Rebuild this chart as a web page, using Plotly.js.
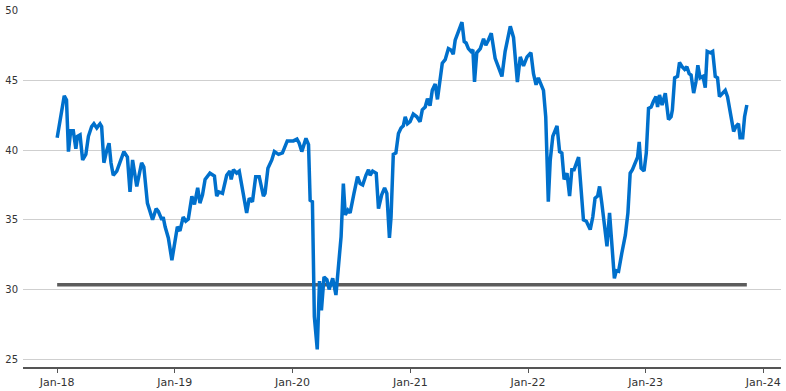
<!DOCTYPE html>
<html>
<head>
<meta charset="utf-8">
<script src="https://cdn.plot.ly/plotly-3.0.1.min.js"></script>
<style>html,body{margin:0;padding:0;background:#fff}#chart{width:786px;height:391px}</style>
</head>
<body>
<div id="chart"></div>
<script>
// Time positions in decimal years
const years = [
2018.000,2018.062,2018.082,2018.096,2018.116,2018.139,2018.159,2018.173,2018.195,2018.218,
2018.244,2018.266,2018.295,2018.314,2018.337,2018.365,2018.380,2018.399,2018.422,2018.442,
2018.459,2018.478,2018.507,2018.541,2018.569,2018.597,2018.620,2018.643,2018.677,2018.720,
2018.739,2018.767,2018.790,2018.813,2018.841,2018.861,2018.890,2018.903,2018.918,2018.946,
2018.975,2018.997,2019.022,2019.045,2019.073,2019.094,2019.116,2019.145,2019.167,2019.196,
2019.215,2019.235,2019.258,2019.300,2019.337,2019.357,2019.377,2019.405,2019.442,2019.470,
2019.479,2019.498,2019.527,2019.547,2019.583,2019.612,2019.632,2019.660,2019.689,2019.717,
2019.753,2019.768,2019.791,2019.825,2019.847,2019.881,2019.915,2019.957,2020.008,2020.037,
2020.057,2020.080,2020.114,2020.136,2020.150,2020.170,2020.187,2020.212,2020.229,2020.246,
2020.269,2020.292,2020.312,2020.343,2020.369,2020.391,2020.414,2020.433,2020.448,2020.470,
2020.490,2020.524,2020.552,2020.575,2020.598,2020.623,2020.646,2020.660,2020.683,2020.711,
2020.731,2020.759,2020.782,2020.802,2020.824,2020.838,2020.858,2020.878,2020.900,2020.923,
2020.943,2020.957,2020.977,2021.000,2021.028,2021.057,2021.085,2021.104,2021.127,2021.147,
2021.170,2021.189,2021.212,2021.232,2021.255,2021.274,2021.297,2021.325,2021.348,2021.365,
2021.382,2021.410,2021.439,2021.459,2021.476,2021.495,2021.518,2021.533,2021.546,2021.567,
2021.595,2021.623,2021.643,2021.665,2021.688,2021.722,2021.750,2021.779,2021.807,2021.850,
2021.878,2021.912,2021.935,2021.963,2021.992,2022.026,2022.048,2022.071,2022.090,2022.119,
2022.133,2022.153,2022.175,2022.190,2022.213,2022.247,2022.269,2022.289,2022.309,2022.332,
2022.354,2022.374,2022.394,2022.430,2022.445,2022.459,2022.473,2022.496,2022.530,2022.553,
2022.572,2022.592,2022.609,2022.629,2022.649,2022.672,2022.694,2022.714,2022.734,2022.751,
2022.770,2022.799,2022.827,2022.850,2022.869,2022.889,2022.912,2022.931,2022.946,2022.963,
2022.988,2023.005,2023.025,2023.048,2023.067,2023.088,2023.102,2023.119,2023.139,2023.167,
2023.195,2023.218,2023.229,2023.246,2023.272,2023.289,2023.309,2023.331,2023.351,2023.371,
2023.388,2023.408,2023.428,2023.445,2023.464,2023.487,2023.507,2023.524,2023.550,2023.569,
2023.592,2023.612,2023.628,2023.654,2023.677,2023.696,2023.719,2023.747,2023.768,2023.790,
2023.804,2023.824,2023.841,2023.861
];
const values = [
40.9,43.9,43.6,39.9,41.4,41.4,40.1,41.0,41.1,39.3,
39.7,41.0,41.7,41.9,41.6,41.9,41.7,39.1,40.0,40.5,
39.1,38.2,38.5,39.2,39.9,39.5,37.0,39.3,37.4,39.1,
38.8,36.2,35.6,35.0,35.8,35.6,35.0,35.2,34.5,33.7,
32.1,33.4,34.5,34.2,35.2,34.9,35.05,36.7,36.1,37.3,
36.2,36.8,37.9,38.35,38.15,36.7,37.0,36.9,38.2,38.5,
37.9,38.6,38.35,38.5,36.7,35.5,36.55,36.3,38.1,38.1,
36.7,36.9,38.7,39.3,39.9,39.7,39.8,40.67,40.67,40.8,
40.5,39.9,40.85,40.4,36.4,36.3,28.05,25.7,30.6,28.5,
30.9,30.7,30.0,30.8,29.6,31.65,33.8,37.6,35.35,35.7,
35.5,36.9,38.1,37.6,37.5,38.2,38.6,38.2,38.5,38.35,
35.8,36.8,37.3,36.9,33.7,35.2,39.7,39.8,41.2,41.6,
41.75,42.4,41.9,42.05,42.6,42.4,42.05,42.9,43.1,43.7,
43.2,44.3,44.75,43.65,45.2,46.25,46.5,47.3,47.2,46.9,
47.9,48.5,49.2,47.8,47.7,47.3,47.1,47.2,44.9,47.0,
47.3,48.0,47.55,47.9,48.4,46.6,45.9,45.3,47.1,48.9,
48.1,44.9,46.7,46.05,46.7,47.0,45.5,44.7,45.2,44.45,
44.3,42.4,36.3,39.3,41.0,41.75,39.9,39.8,37.9,38.35,
36.7,38.6,38.6,39.5,38.1,36.4,35.0,34.9,34.3,35.2,
36.55,36.7,37.4,36.2,34.75,33.1,35.5,33.6,30.8,31.35,
31.3,32.6,33.9,35.5,38.35,38.6,39.1,39.5,40.6,38.7,
38.5,39.8,43.0,43.1,43.5,43.85,43.1,43.97,43.25,44.1,
42.2,42.4,42.9,45.2,45.3,46.3,46.0,45.8,46.0,45.5,
45.4,44.1,44.9,46.1,45.2,45.3,44.5,47.1,47.0,47.1,
45.3,45.2,43.85,44.1,44.3,43.85,42.9,41.35,41.7,41.9,
40.9,40.9,42.4,43.25
];
// Reference (average) level
const refLevel = 30.33;
const yTicks = [25, 30, 35, 40, 45, 50];

function toDate(y) {
  const ms = Date.UTC(2018, 0, 1) + (y - 2018) * 365.25 * 86400000;
  return new Date(ms).toISOString().slice(0, 10);
}
const dates = years.map(toDate);

const traces = [
  {
    x: [dates[0], dates[dates.length - 1]],
    y: [refLevel, refLevel],
    type: 'scatter', mode: 'lines',
    line: {color: '#5c5c5c', width: 3.5},
    hoverinfo: 'skip', showlegend: false
  },
  {
    x: dates, y: values,
    type: 'scatter', mode: 'lines',
    line: {color: '#0070cc', width: 3.5},
    showlegend: false
  }
];

const layout = {
  width: 786, height: 391,
  margin: {l: 23, r: 5, t: 10, b: 24, pad: 0},
  paper_bgcolor: '#ffffff', plot_bgcolor: '#ffffff',
  font: {family: 'DejaVu Sans, sans-serif', size: 10, color: '#333333'},
  showlegend: false,
  xaxis: {
    type: 'date',
    range: [toDate(2017.711), toDate(2024.150)],
    tick0: '2018-01-01', dtick: 'M12', tickformat: '%b-%y',
    showgrid: false, zeroline: false,
    showline: true, linecolor: '#555555', linewidth: 1.5,
    ticks: 'outside', ticklen: 4, tickcolor: '#555555', tickwidth: 1,
    tickfont: {family: 'DejaVu Sans, sans-serif', size: 11, color: '#333333'}
  },
  yaxis: {
    range: [24.43, 50.07],
    tickvals: yTicks,
    showgrid: true, gridcolor: '#cfcfcf', gridwidth: 1,
    zeroline: false, showline: false, ticks: '',
    ticklabelstandoff: 4,
    tickfont: {family: 'DejaVu Sans, sans-serif', size: 10, color: '#333333'}
  }
};

Plotly.newPlot('chart', traces, layout, {displayModeBar: false, staticPlot: true});
</script>
</body>
</html>
